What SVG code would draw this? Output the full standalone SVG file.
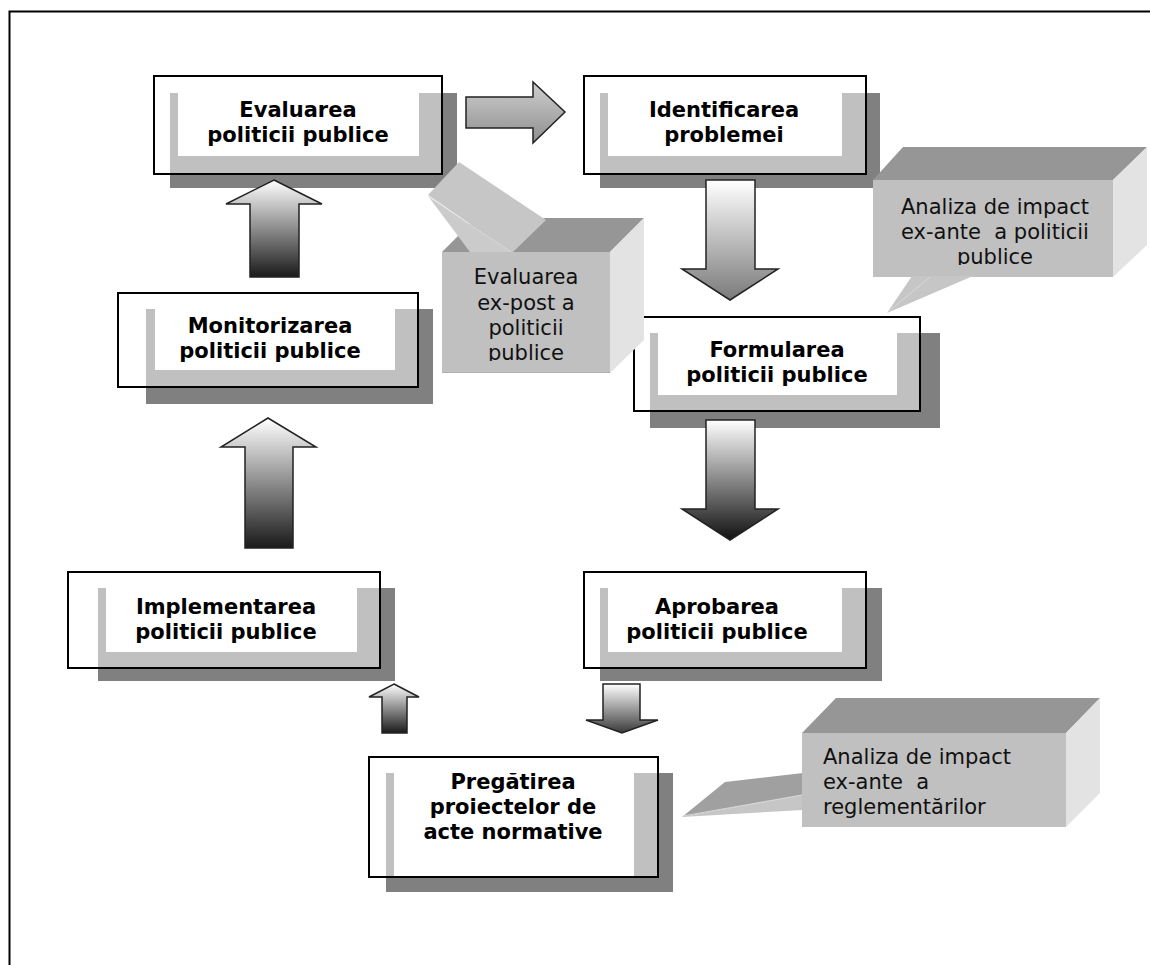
<svg xmlns="http://www.w3.org/2000/svg" width="1150" height="965" viewBox="0 0 1150 965">
  <style>
    .frame { fill: none; stroke: #000; stroke-width: 2; }
    .sh-dark { fill: #808080; }
    .sh-light { fill: #c0c0c0; }
    .inner { fill: #ffffff; }
    .bold { font-family: "DejaVu Sans", Verdana, sans-serif; font-weight: bold; font-size: 21px; text-anchor: middle; fill: #000; }
    .note { font-family: "DejaVu Sans", Verdana, sans-serif; font-size: 21px; fill: #111; }
    .mid { text-anchor: middle; }
    .face-front { fill: #c0c0c0; }
    .face-top { fill: #969696; }
    .face-side { fill: #e3e3e3; }
    .ptr { fill: #c6c6c6; }
    .ptr-low { fill: #cbcbcb; }
    .ptr-dark { fill: #a0a0a0; }
    .arrow { stroke: #222; stroke-width: 1.5; stroke-linejoin: miter; }
  </style>
  <defs>
    <linearGradient id="g-up" x1="0" y1="0" x2="0" y2="1">
      <stop offset="0" stop-color="#ffffff"/>
      <stop offset="1" stop-color="#1a1a1a"/>
    </linearGradient>
    <linearGradient id="g-down-gray" x1="0" y1="0" x2="0" y2="1">
      <stop offset="0" stop-color="#ffffff"/>
      <stop offset="1" stop-color="#7a7a7a"/>
    </linearGradient>
    <linearGradient id="g-down-dark" x1="0" y1="0" x2="0" y2="1">
      <stop offset="0" stop-color="#ffffff"/>
      <stop offset="1" stop-color="#111111"/>
    </linearGradient>
    <linearGradient id="g-down-small" x1="0" y1="0" x2="0" y2="1">
      <stop offset="0" stop-color="#ffffff"/>
      <stop offset="1" stop-color="#3a3a3a"/>
    </linearGradient>
    <linearGradient id="g-right" x1="0" y1="0" x2="0" y2="1">
      <stop offset="0" stop-color="#cfcfcf"/>
      <stop offset="1" stop-color="#8e8e8e"/>
    </linearGradient>
    <clipPath id="clip-expost"><rect x="442" y="252" width="168" height="109"/></clipPath>
    <clipPath id="clip-exante"><rect x="873" y="180" width="240" height="85"/></clipPath>
  </defs>

  <rect width="1150" height="965" fill="#ffffff"/>
  <!-- page border (open on the right and bottom) -->
  <path d="M9.5,965 V11.5 H1150" fill="none" stroke="#000" stroke-width="2"/>

  <!-- process steps -->
  <g id="n-evaluarea">
    <rect class="sh-dark" x="170" y="93" width="287" height="95"/>
    <rect class="sh-light" x="170" y="93" width="272" height="81"/>
    <rect class="inner" x="178" y="76" width="241" height="80"/>
    <rect class="frame" x="154" y="76" width="288" height="98"/>
    <text class="bold" x="298" y="117">Evaluarea</text>
    <text class="bold" x="298" y="142">politicii publice</text>
  </g>

  <g id="n-identificarea">
    <rect class="sh-dark" x="600" y="93" width="280" height="95"/>
    <rect class="sh-light" x="600" y="93" width="266" height="81"/>
    <rect class="inner" x="608" y="76" width="234" height="80"/>
    <rect class="frame" x="584" y="76" width="282" height="98"/>
    <text class="bold" x="724" y="117">Identificarea</text>
    <text class="bold" x="724" y="142">problemei</text>
  </g>

  <g id="n-monitorizarea">
    <rect class="sh-dark" x="146" y="309" width="287" height="95"/>
    <rect class="sh-light" x="146" y="309" width="272" height="78"/>
    <rect class="inner" x="155" y="293" width="240" height="77"/>
    <rect class="frame" x="118" y="293" width="300" height="94"/>
    <text class="bold" x="270" y="333">Monitorizarea</text>
    <text class="bold" x="270" y="358">politicii publice</text>
  </g>

  <g id="n-formularea">
    <rect class="sh-dark" x="650" y="333" width="290" height="95"/>
    <rect class="sh-light" x="650" y="333" width="270" height="78"/>
    <rect class="inner" x="658" y="317" width="239" height="78"/>
    <rect class="frame" x="634" y="317" width="286" height="94"/>
    <text class="bold" x="777" y="357">Formularea</text>
    <text class="bold" x="777" y="382">politicii publice</text>
  </g>

  <g id="n-implementarea">
    <rect class="sh-dark" x="98" y="588" width="297" height="93"/>
    <rect class="sh-light" x="98" y="588" width="282" height="80"/>
    <rect class="inner" x="106" y="572" width="251" height="80"/>
    <rect class="frame" x="68" y="572" width="312" height="96"/>
    <text class="bold" x="226" y="614">Implementarea</text>
    <text class="bold" x="226" y="639">politicii publice</text>
  </g>

  <g id="n-aprobarea">
    <rect class="sh-dark" x="600" y="588" width="282" height="93"/>
    <rect class="sh-light" x="600" y="588" width="266" height="80"/>
    <rect class="inner" x="608" y="572" width="234" height="80"/>
    <rect class="frame" x="584" y="572" width="282" height="96"/>
    <text class="bold" x="717" y="614">Aprobarea</text>
    <text class="bold" x="717" y="639">politicii publice</text>
  </g>

  <g id="n-pregatirea">
    <rect class="sh-dark" x="386" y="773" width="287" height="119"/>
    <rect class="sh-light" x="386" y="773" width="272" height="104"/>
    <rect class="inner" x="394" y="757" width="240" height="120"/>
    <rect class="frame" x="369" y="757" width="289" height="120"/>
    <text class="bold" x="513" y="789">Pregătirea</text>
    <text class="bold" x="513" y="814">proiectelor de</text>
    <text class="bold" x="513" y="839">acte normative</text>
  </g>

  <!-- 3D callouts -->
  <g id="n-expost">
    <polygon class="face-top" points="442,252 476,218 644,218 610,252"/>
    <polygon class="face-side" points="610,252 644,218 644,340 610,373"/>
    <polygon class="ptr" points="428,195 459,162 546,220 512,253"/>
    <polygon class="ptr-low" points="428,196 512,253 470,252"/>
    <line x1="429" y1="197" x2="511" y2="252" stroke="#dedede" stroke-width="1"/>
    <rect class="face-front" x="442" y="252" width="168" height="121"/>
    <line x1="442" y1="372.5" x2="610" y2="372.5" stroke="#b0b0b0" stroke-width="1"/>
    <g clip-path="url(#clip-expost)">
      <text class="note mid" x="526" y="284">Evaluarea</text>
      <text class="note mid" x="526" y="310">ex-post a</text>
      <text class="note mid" x="526" y="335">politicii</text>
      <text class="note mid" x="526" y="360">publice</text>
    </g>
  </g>

  <g id="n-exante-politici">
    <polygon class="face-top" points="873,180 903,147 1147,147 1113,180"/>
    <polygon class="face-side" points="1113,180 1147,147 1147,245 1113,277"/>
    <rect class="face-front" x="873" y="180" width="240" height="97"/>
    <polygon class="ptr" points="912,276 973,276 887,313"/>
    <line x1="888" y1="312" x2="930" y2="277" stroke="#d8d8d8" stroke-width="1"/>
    <g clip-path="url(#clip-exante)">
      <text class="note mid" x="995" y="214">Analiza de impact</text>
      <text class="note mid" x="995" y="239" xml:space="preserve">ex-ante  a politicii</text>
      <text class="note mid" x="995" y="264">publice</text>
    </g>
  </g>

  <g id="n-exante-reglementari">
    <polygon class="face-top" points="802,733 836,698 1100,698 1066,733"/>
    <polygon class="face-side" points="1066,733 1100,698 1100,793 1066,827"/>
    <polygon class="ptr-dark" points="682,817 725,782 803,773 803,795"/>
    <polygon class="ptr" points="682,817 803,795 803,810"/>
    <line x1="683" y1="816" x2="802" y2="795" stroke="#d8d8d8" stroke-width="1"/>
    <rect class="face-front" x="802" y="733" width="264" height="94"/>
    <text class="note" x="823" y="764">Analiza de impact</text>
    <text class="note" x="823" y="789" xml:space="preserve">ex-ante  a</text>
    <text class="note" x="823" y="814">reglementărilor</text>
  </g>

  <!-- block arrows between steps -->
  <g id="connectors">
    <polygon class="arrow" fill="url(#g-right)" points="466,97 533,97 533,82 565,112 533,143 533,128 466,128"/>
    <polygon class="arrow" fill="url(#g-up)" points="274,180 322,204 299,204 299,277 250,277 250,204 226,204"/>
    <polygon class="arrow" fill="url(#g-down-gray)" points="706,180 755,180 755,269 778,269 730,300 682,269 706,269"/>
    <polygon class="arrow" fill="url(#g-up)" points="268,418 316,447 293,447 293,548 245,548 245,447 221,447"/>
    <polygon class="arrow" fill="url(#g-down-dark)" points="706,420 755,420 755,509 778,509 730,540 682,509 706,509"/>
    <polygon class="arrow" fill="url(#g-up)" points="394,684 419,697 407,697 407,733 382,733 382,697 369,697"/>
    <polygon class="arrow" fill="url(#g-down-small)" points="603,684 640,684 640,720 658,720 622,733 586,720 603,720"/>
  </g>
</svg>
